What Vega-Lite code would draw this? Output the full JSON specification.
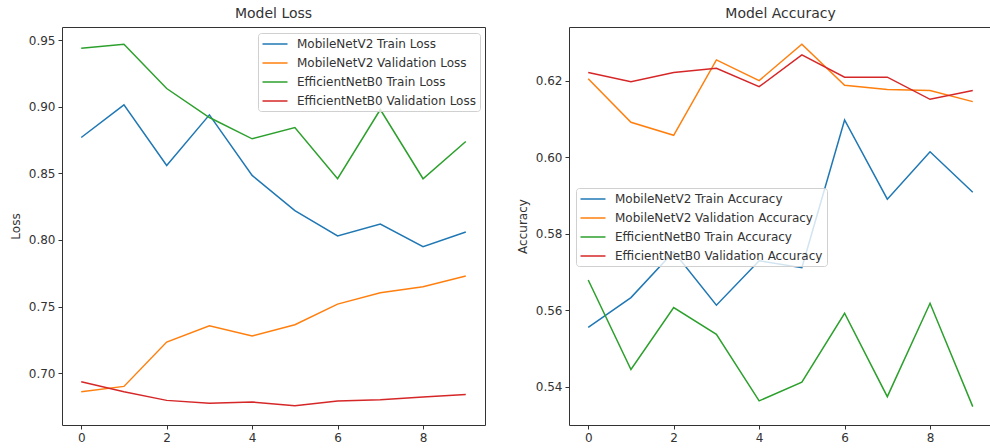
{
  "$schema": "https://vega.github.io/schema/vega-lite/v6.json",
  "padding": {"left": 8, "top": 6, "right": 0, "bottom": 0},
  "background": "white",
  "spacing": 29,
  "datasets": {
    "loss": [
      {"epoch": 0, "series": "MobileNetV2 Train Loss", "value": 0.877},
      {"epoch": 1, "series": "MobileNetV2 Train Loss", "value": 0.9015},
      {"epoch": 2, "series": "MobileNetV2 Train Loss", "value": 0.856},
      {"epoch": 3, "series": "MobileNetV2 Train Loss", "value": 0.894},
      {"epoch": 4, "series": "MobileNetV2 Train Loss", "value": 0.8485},
      {"epoch": 5, "series": "MobileNetV2 Train Loss", "value": 0.822},
      {"epoch": 6, "series": "MobileNetV2 Train Loss", "value": 0.803},
      {"epoch": 7, "series": "MobileNetV2 Train Loss", "value": 0.812},
      {"epoch": 8, "series": "MobileNetV2 Train Loss", "value": 0.795},
      {"epoch": 9, "series": "MobileNetV2 Train Loss", "value": 0.806},
      {"epoch": 0, "series": "MobileNetV2 Validation Loss", "value": 0.686},
      {"epoch": 1, "series": "MobileNetV2 Validation Loss", "value": 0.690},
      {"epoch": 2, "series": "MobileNetV2 Validation Loss", "value": 0.7233},
      {"epoch": 3, "series": "MobileNetV2 Validation Loss", "value": 0.7355},
      {"epoch": 4, "series": "MobileNetV2 Validation Loss", "value": 0.7278},
      {"epoch": 5, "series": "MobileNetV2 Validation Loss", "value": 0.7363},
      {"epoch": 6, "series": "MobileNetV2 Validation Loss", "value": 0.7518},
      {"epoch": 7, "series": "MobileNetV2 Validation Loss", "value": 0.7603},
      {"epoch": 8, "series": "MobileNetV2 Validation Loss", "value": 0.7648},
      {"epoch": 9, "series": "MobileNetV2 Validation Loss", "value": 0.773},
      {"epoch": 0, "series": "EfficientNetB0 Train Loss", "value": 0.944},
      {"epoch": 1, "series": "EfficientNetB0 Train Loss", "value": 0.947},
      {"epoch": 2, "series": "EfficientNetB0 Train Loss", "value": 0.9138},
      {"epoch": 3, "series": "EfficientNetB0 Train Loss", "value": 0.892},
      {"epoch": 4, "series": "EfficientNetB0 Train Loss", "value": 0.876},
      {"epoch": 5, "series": "EfficientNetB0 Train Loss", "value": 0.8845},
      {"epoch": 6, "series": "EfficientNetB0 Train Loss", "value": 0.846},
      {"epoch": 7, "series": "EfficientNetB0 Train Loss", "value": 0.898},
      {"epoch": 8, "series": "EfficientNetB0 Train Loss", "value": 0.846},
      {"epoch": 9, "series": "EfficientNetB0 Train Loss", "value": 0.874},
      {"epoch": 0, "series": "EfficientNetB0 Validation Loss", "value": 0.6935},
      {"epoch": 1, "series": "EfficientNetB0 Validation Loss", "value": 0.686},
      {"epoch": 2, "series": "EfficientNetB0 Validation Loss", "value": 0.6795},
      {"epoch": 3, "series": "EfficientNetB0 Validation Loss", "value": 0.6773},
      {"epoch": 4, "series": "EfficientNetB0 Validation Loss", "value": 0.6783},
      {"epoch": 5, "series": "EfficientNetB0 Validation Loss", "value": 0.6755},
      {"epoch": 6, "series": "EfficientNetB0 Validation Loss", "value": 0.679},
      {"epoch": 7, "series": "EfficientNetB0 Validation Loss", "value": 0.680},
      {"epoch": 8, "series": "EfficientNetB0 Validation Loss", "value": 0.682},
      {"epoch": 9, "series": "EfficientNetB0 Validation Loss", "value": 0.684}
    ],
    "acc": [
      {"epoch": 0, "series": "MobileNetV2 Train Accuracy", "value": 0.5555},
      {"epoch": 1, "series": "MobileNetV2 Train Accuracy", "value": 0.5633},
      {"epoch": 2, "series": "MobileNetV2 Train Accuracy", "value": 0.5753},
      {"epoch": 3, "series": "MobileNetV2 Train Accuracy", "value": 0.5613},
      {"epoch": 4, "series": "MobileNetV2 Train Accuracy", "value": 0.5729},
      {"epoch": 5, "series": "MobileNetV2 Train Accuracy", "value": 0.5711},
      {"epoch": 6, "series": "MobileNetV2 Train Accuracy", "value": 0.6097},
      {"epoch": 7, "series": "MobileNetV2 Train Accuracy", "value": 0.589},
      {"epoch": 8, "series": "MobileNetV2 Train Accuracy", "value": 0.6014},
      {"epoch": 9, "series": "MobileNetV2 Train Accuracy", "value": 0.5908},
      {"epoch": 0, "series": "MobileNetV2 Validation Accuracy", "value": 0.6205},
      {"epoch": 1, "series": "MobileNetV2 Validation Accuracy", "value": 0.6091},
      {"epoch": 2, "series": "MobileNetV2 Validation Accuracy", "value": 0.6057},
      {"epoch": 3, "series": "MobileNetV2 Validation Accuracy", "value": 0.6254},
      {"epoch": 4, "series": "MobileNetV2 Validation Accuracy", "value": 0.620},
      {"epoch": 5, "series": "MobileNetV2 Validation Accuracy", "value": 0.6295},
      {"epoch": 6, "series": "MobileNetV2 Validation Accuracy", "value": 0.6188},
      {"epoch": 7, "series": "MobileNetV2 Validation Accuracy", "value": 0.6177},
      {"epoch": 8, "series": "MobileNetV2 Validation Accuracy", "value": 0.6174},
      {"epoch": 9, "series": "MobileNetV2 Validation Accuracy", "value": 0.6145},
      {"epoch": 0, "series": "EfficientNetB0 Train Accuracy", "value": 0.5679},
      {"epoch": 1, "series": "EfficientNetB0 Train Accuracy", "value": 0.5445},
      {"epoch": 2, "series": "EfficientNetB0 Train Accuracy", "value": 0.5607},
      {"epoch": 3, "series": "EfficientNetB0 Train Accuracy", "value": 0.5537},
      {"epoch": 4, "series": "EfficientNetB0 Train Accuracy", "value": 0.5363},
      {"epoch": 5, "series": "EfficientNetB0 Train Accuracy", "value": 0.5412},
      {"epoch": 6, "series": "EfficientNetB0 Train Accuracy", "value": 0.5592},
      {"epoch": 7, "series": "EfficientNetB0 Train Accuracy", "value": 0.5374},
      {"epoch": 8, "series": "EfficientNetB0 Train Accuracy", "value": 0.5618},
      {"epoch": 9, "series": "EfficientNetB0 Train Accuracy", "value": 0.5348},
      {"epoch": 0, "series": "EfficientNetB0 Validation Accuracy", "value": 0.6221},
      {"epoch": 1, "series": "EfficientNetB0 Validation Accuracy", "value": 0.6197},
      {"epoch": 2, "series": "EfficientNetB0 Validation Accuracy", "value": 0.6221},
      {"epoch": 3, "series": "EfficientNetB0 Validation Accuracy", "value": 0.6232},
      {"epoch": 4, "series": "EfficientNetB0 Validation Accuracy", "value": 0.6184},
      {"epoch": 5, "series": "EfficientNetB0 Validation Accuracy", "value": 0.6267},
      {"epoch": 6, "series": "EfficientNetB0 Validation Accuracy", "value": 0.6209},
      {"epoch": 7, "series": "EfficientNetB0 Validation Accuracy", "value": 0.6209},
      {"epoch": 8, "series": "EfficientNetB0 Validation Accuracy", "value": 0.6151},
      {"epoch": 9, "series": "EfficientNetB0 Validation Accuracy", "value": 0.6174}
    ]
  },
  "hconcat": [
    {
      "title": "Model Loss",
      "width": 423,
      "height": 398,
      "data": {"name": "loss"},
      "mark": {"type": "line", "strokeWidth": 1.5},
      "encoding": {
        "x": {"field": "epoch", "type": "quantitative", "scale": {"domain": [-0.45, 9.45], "nice": false, "zero": false}, "axis": {"values": [0, 2, 4, 6, 8], "title": null}},
        "y": {"field": "value", "type": "quantitative", "scale": {"domain": [0.661, 0.96], "nice": false, "zero": false}, "axis": {"values": [0.7, 0.75, 0.8, 0.85, 0.9, 0.95], "format": ".2f", "title": "Loss"}},
        "color": {
          "field": "series", "type": "nominal",
          "scale": {"domain": ["MobileNetV2 Train Loss", "MobileNetV2 Validation Loss", "EfficientNetB0 Train Loss", "EfficientNetB0 Validation Loss"], "range": ["#1f77b4", "#ff7f0e", "#2ca02c", "#d62728"]},
          "legend": {"orient": "none", "legendX": 196, "legendY": 6}
        }
      }
    },
    {
      "title": "Model Accuracy",
      "width": 423,
      "height": 398,
      "data": {"name": "acc"},
      "mark": {"type": "line", "strokeWidth": 1.5},
      "encoding": {
        "x": {"field": "epoch", "type": "quantitative", "scale": {"domain": [-0.45, 9.45], "nice": false, "zero": false}, "axis": {"values": [0, 2, 4, 6, 8], "title": null}},
        "y": {"field": "value", "type": "quantitative", "scale": {"domain": [0.53, 0.634], "nice": false, "zero": false}, "axis": {"values": [0.54, 0.56, 0.58, 0.6, 0.62], "format": ".2f", "title": "Accuracy"}},
        "color": {
          "field": "series", "type": "nominal",
          "scale": {"domain": ["MobileNetV2 Train Accuracy", "MobileNetV2 Validation Accuracy", "EfficientNetB0 Train Accuracy", "EfficientNetB0 Validation Accuracy"], "range": ["#1f77b4", "#ff7f0e", "#2ca02c", "#d62728"]},
          "legend": {"orient": "none", "legendX": 7, "legendY": 161}
        }
      }
    }
  ],
  "resolve": {"scale": {"color": "independent"}, "legend": {"color": "independent"}},
  "config": {
    "font": "DejaVu Sans",
    "view": {"stroke": "#333333", "strokeWidth": 1},
    "axis": {"domain": false, "grid": false, "tickColor": "#333333", "tickSize": 4, "labelFontSize": 12, "labelColor": "#333333", "labelPadding": 3, "titleFontSize": 12, "titleFontWeight": "normal", "titleColor": "#333333", "titlePadding": 6},
    "title": {"fontSize": 14, "fontWeight": "normal", "color": "#333333", "offset": 6},
    "legend": {"title": null, "fillColor": "rgba(255,255,255,0.8)", "strokeColor": "#d0d0d0", "cornerRadius": 3, "padding": 4, "symbolType": "M-2,0H2", "symbolOffset": 6, "symbolStrokeWidth": 1.5, "symbolSize": 156, "labelFontSize": 12, "labelColor": "#333333", "labelLimit": 400, "labelOffset": 15, "rowPadding": 6}
  }
}
